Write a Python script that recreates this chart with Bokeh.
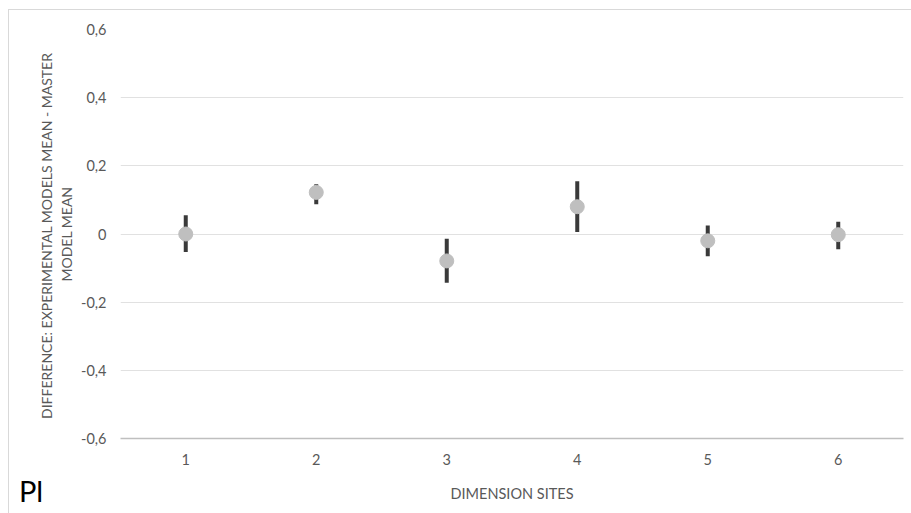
from bokeh.plotting import figure
from bokeh.models import FixedTicker, Range1d, Div
from bokeh.layouts import column
from bokeh.embed import file_html
from bokeh.resources import INLINE

# ---- data ----
sites = [1, 2, 3, 4, 5, 6]
site_labels = ["1", "2", "3", "4", "5", "6"]
means = [0.0, 0.122, -0.079, 0.080, -0.020, -0.002]
upper = [0.055, 0.146, -0.014, 0.155, 0.025, 0.036]
lower = [-0.053, 0.087, -0.143, 0.006, -0.065, -0.045]
y_ticks = [-0.6, -0.4, -0.2, 0.0, 0.2, 0.4, 0.6]
y_tick_labels = ["-0,6", "-0,4", "-0,2", "0", "0,2", "0,4", "0,6"]
x_title = "DIMENSION SITES"
y_title = "DIFFERENCE: EXPERIMENTAL MODELS  MEAN - MASTER\nMODEL MEAN"
corner_text = "Pl"

FONT = "Lato"
TXT = "#595959"

p = figure(width=911, height=508, output_backend="svg", toolbar_location=None,
           x_range=Range1d(0.5, 6.5), y_range=Range1d(-0.6, 0.6),
           min_border_left=120, min_border_right=8, min_border_top=29,
           min_border_bottom=70)
p.outline_line_color = None
p.background_fill_color = "white"
p.border_fill_color = "white"

p.xgrid.grid_line_color = None
p.ygrid.ticker = FixedTicker(ticks=y_ticks)
p.ygrid.grid_line_color = "#E1E1E1"
p.ygrid.grid_line_width = 1

# y axis
p.yaxis.ticker = FixedTicker(ticks=y_ticks)
p.yaxis.major_label_overrides = {t: l for t, l in zip(y_ticks, y_tick_labels)}
p.yaxis.axis_line_color = None
p.yaxis.major_tick_line_color = None
p.yaxis.minor_tick_line_color = None
p.yaxis.major_tick_out = 0
p.yaxis.major_label_standoff = 14
p.yaxis.major_label_text_font = FONT
p.yaxis.major_label_text_font_size = "14.5px"
p.yaxis.major_label_text_color = TXT
p.yaxis.axis_label = y_title
p.yaxis.axis_label_text_font = FONT
p.yaxis.axis_label_text_font_size = "14px"
p.yaxis.axis_label_text_font_style = "normal"
p.yaxis.axis_label_text_color = TXT
p.yaxis.axis_label_standoff = 3

# x axis
p.xaxis.ticker = FixedTicker(ticks=sites)
p.xaxis.major_label_overrides = {s: l for s, l in zip(sites, site_labels)}
p.xaxis.axis_line_color = "#BFBFBF"
p.xaxis.axis_line_width = 1.5
p.xaxis.major_tick_line_color = None
p.xaxis.minor_tick_line_color = None
p.xaxis.major_tick_out = 0
p.xaxis.major_label_standoff = 15
p.xaxis.major_label_text_font = FONT
p.xaxis.major_label_text_font_size = "14.5px"
p.xaxis.major_label_text_color = TXT
p.xaxis.axis_label = x_title
p.xaxis.axis_label_text_font = FONT
p.xaxis.axis_label_text_font_size = "14.5px"
p.xaxis.axis_label_text_font_style = "normal"
p.xaxis.axis_label_text_color = TXT
p.xaxis.axis_label_standoff = 17

# error bars and means
p.segment(x0=sites, y0=lower, x1=sites, y1=upper, line_width=4, line_color="#3A3A3A")
p.scatter(x=sites, y=means, size=14, fill_color="#BFBFBF", line_color="#BFBFBF")

corner = Div(text=corner_text, width=40, height=34,
             styles={"position": "absolute", "left": "19px", "top": "476px",
                     "font-family": "Lato", "font-size": "29px", "color": "black",
                     "line-height": "1", "margin": "0"})
border = Div(text="", width=903, height=504,
             styles={"position": "absolute", "left": "8px", "top": "9px",
                     "border-left": "1px solid #D9D9D9",
                     "border-top": "1px solid #D9D9D9",
                     "pointer-events": "none", "margin": "0"})

layout = column(p, corner, border)
open("out.html", "w").write(file_html(layout, INLINE))
